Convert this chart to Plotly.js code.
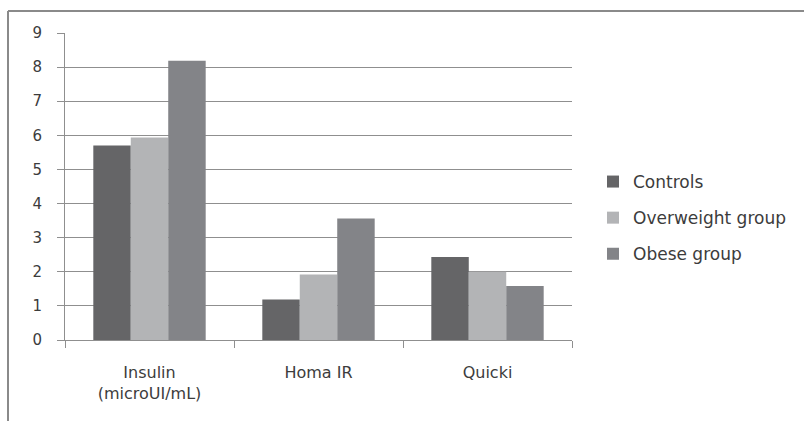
<!DOCTYPE html>
<html>
<head>
<meta charset="utf-8">
<script src="https://cdn.plot.ly/plotly-3.0.1.min.js"></script>
<style>html,body{margin:0;padding:0;background:#fff;}#chart{width:804px;height:421px;}</style>
</head>
<body>
<div id="chart"></div>
<script>
const categories = ["Insulin<br>(microUI/mL)", "Homa IR", "Quicki"];
const seriesNames = ["Controls", "Overweight group", "Obese group"];
const controls = [5.70, 1.19, 2.43];
const overweight = [5.94, 1.92, 2.00];
const obese = [8.19, 3.56, 1.58];
const yTicks = [0, 1, 2, 3, 4, 5, 6, 7, 8, 9];

const colors = ["#656567", "#b3b4b6", "#838488"];
const allSeries = [controls, overweight, obese];

const traces = allSeries.map((vals, i) => ({
  type: "bar",
  name: seriesNames[i],
  x: categories,
  y: vals,
  marker: {color: colors[i], line: {width: 0}},
  legendgroup: "g" + i,
  hoverinfo: "skip"
}));

const L = 65, R = 232, T = 33, B = 81;
const W = 804, H = 421;
const pw = W - L - R, ph = H - T - B;
function px2x(p) { return (p - L) / pw; }
function py2y(p) { return (H - B - p) / ph; }

const layout = {
  width: W, height: H,
  margin: {l: L, r: R, t: T, b: B, pad: 0},
  paper_bgcolor: "#ffffff",
  plot_bgcolor: "#ffffff",
  font: {family: "'DejaVu Sans', sans-serif", color: "#3c3c3c", size: 15},
  barmode: "group",
  bargap: 0.335,
  bargroupgap: 0,
  showlegend: true,
  legend: {
    x: px2x(593), xanchor: "left",
    y: py2y(218), yanchor: "middle",
    font: {size: 17, color: "#3c3c3c"},
    traceorder: "grouped",
    tracegroupgap: 11,
    itemwidth: 30,
    bgcolor: "rgba(0,0,0,0)"
  },
  xaxis: {
    type: "category",
    showgrid: false,
    showline: true,
    linecolor: "#8f8f8f",
    linewidth: 1,
    ticks: "outside",
    tickson: "boundaries",
    ticklen: 7,
    tickcolor: "#8f8f8f",
    tickfont: {size: 16, color: "#3c3c3c"},
    ticklabelstandoff: 18,
    fixedrange: true,
    zeroline: false
  },
  yaxis: {
    range: [0, 9],
    tickvals: yTicks,
    showgrid: true,
    gridcolor: "#8f8f8f",
    gridwidth: 1,
    showline: true,
    linecolor: "#8f8f8f",
    linewidth: 1,
    ticks: "outside",
    ticklen: 7,
    tickcolor: "#8f8f8f",
    tickfont: {size: 15, color: "#3c3c3c"},
    ticklabelstandoff: 12,
    zeroline: false,
    fixedrange: true
  },
  shapes: [
    {type: "line", xref: "paper", yref: "paper", x0: px2x(8), x1: px2x(806), y0: py2y(11), y1: py2y(11), line: {color: "#8a8a8a", width: 2}},
    {type: "line", xref: "paper", yref: "paper", x0: px2x(8), x1: px2x(8), y0: py2y(11), y1: py2y(423), line: {color: "#8a8a8a", width: 2}}
  ]
};

Plotly.newPlot("chart", traces, layout, {displayModeBar: false, staticPlot: true});
</script>
</body>
</html>
